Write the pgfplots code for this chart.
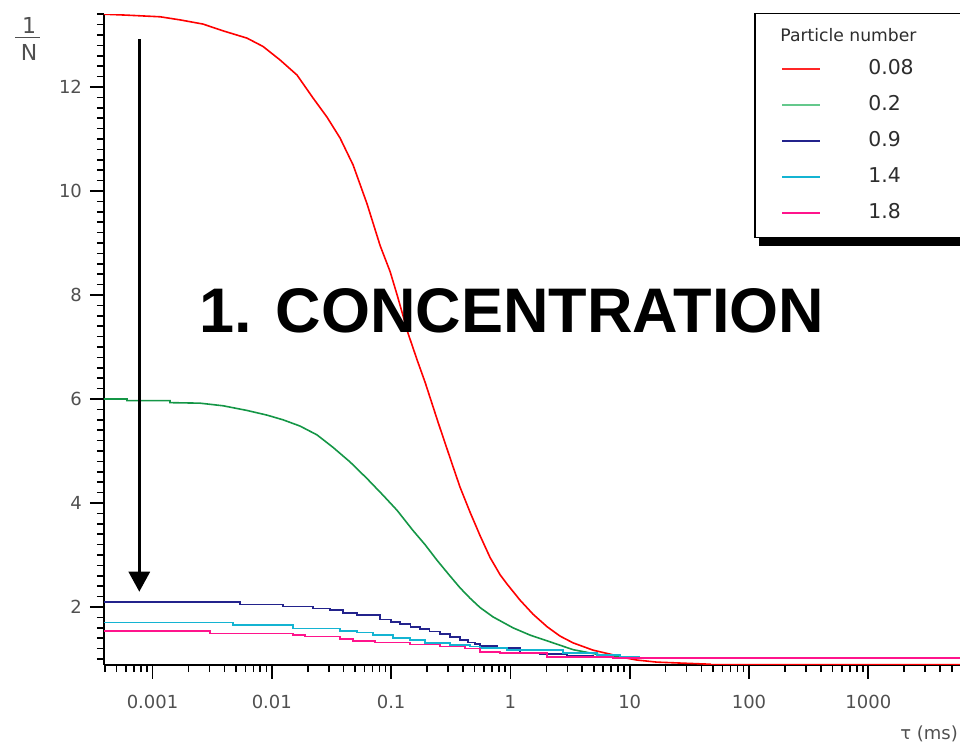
\documentclass[border=0pt]{standalone}
\usepackage{fontspec}
\setmainfont{DejaVu Sans}
\newfontfamily\arialfont{Liberation Sans}
\usepackage{pgfplots}
\pgfplotsset{compat=1.18}
\usetikzlibrary{arrows.meta}
\definecolor{tickgray}{RGB}{80,80,80}
\definecolor{txtgray}{RGB}{45,45,45}
\definecolor{cred}{RGB}{255,0,0}
\definecolor{cgreen}{RGB}{20,150,70}
\definecolor{cnavy}{RGB}{35,35,140}
\definecolor{ccyan}{RGB}{20,180,210}
\definecolor{cpink}{RGB}{255,20,140}
\definecolor{lgreen}{RGB}{100,200,140}

\begin{document}
\begin{tikzpicture}
\useasboundingbox (0,0) rectangle (480pt,372pt);
\clip (0,0) rectangle (480pt,372pt);
% legend frame with its shadow
\fill[black] (379.5pt,249.2pt) rectangle (500pt,362pt);
\draw[black, line width=0.75pt, fill=white] (377.5pt,253.3pt) rectangle (497.5pt,365.3pt);
\begin{axis}[
    at={(52pt,39.5pt)}, anchor=south west,
    scale only axis, width=447.8pt, height=325.4pt,
    xmode=log, xmin=3.92e-4, xmax=12600,
    ymin=0.885, ymax=13.4,
    axis x line*=bottom, axis y line*=left,
    xtick pos=bottom, ytick pos=left,
    axis line style={line width=1.1pt},
    tick align=outside,
    major tick length=7pt, minor tick length=3.6pt,
    major tick style={line width=0.9pt, black},
    minor tick style={line width=0.8pt, black},
    xtick={0.001,0.01,0.1,1,10,100,1000},
    xticklabels={0.001,0.01,0.1,1,10,100,1000},
    minor xtick={0.0004,0.0005,0.0006,0.0007,0.0008,0.0009,
        0.002,0.003,0.004,0.005,0.006,0.007,0.008,0.009,
        0.02,0.03,0.04,0.05,0.06,0.07,0.08,0.09,
        0.2,0.3,0.4,0.5,0.6,0.7,0.8,0.9,
        2,3,4,5,6,7,8,9,20,30,40,50,60,70,80,90,
        200,300,400,500,600,700,800,900,
        2000,3000,4000,5000,6000,7000,8000,9000},
    ytick={2,4,6,8,10,12}, yticklabels={2,4,6,8,10,12},
    minor ytick={1,1.2,...,13.3},
    ticklabel style={font=\fontsize{9}{10}\selectfont, text=tickgray},
    xticklabel style={yshift=-4.5pt},
    yticklabel style={xshift=-0.5pt},
    /pgf/number format/assume math mode=true,
    legend cell align=left,
    legend image code/.code={\draw[#1, line width=0.9pt] (0pt,0pt) -- (19pt,0pt); \path (42.6pt,0pt);},
    legend style={at={(axis description cs:0.7559,0.9445)}, anchor=north west,
        draw=none, fill=none, inner sep=0pt, row sep=0pt,
        nodes={inner sep=0pt, minimum height=18pt, text=txtgray,
            font=\fontsize{10.2}{12}\selectfont}},
    every axis plot/.append style={line width=0.8pt},
]
\addplot[cred, forget plot] coordinates {
(3.92e-4,13.40)(6.3e-4,13.38)(1.16e-3,13.35)(1.706e-3,13.29)(2.65e-3,13.21)
(3.9e-3,13.08)(6.19e-3,12.94)(8.43e-3,12.78)(0.01172,12.52)(0.01626,12.23)
(0.02213,11.79)(0.02902,11.42)(0.0373,11.02)(0.04801,10.50)(0.06289,9.75)
(0.08087,8.95)(0.09808,8.45)(0.1123,8.00)(0.1388,7.26)(0.1652,6.75)
(0.1928,6.32)(0.2477,5.55)(0.3246,4.75)(0.3788,4.30)(0.4595,3.82)
(0.5572,3.37)(0.6758,2.95)(0.8197,2.62)(0.9383,2.44)(1.206,2.13)
(1.550,1.86)(2.031,1.62)(2.609,1.44)(3.355,1.31)(4.934,1.17)
(7.257,1.08)(8.79,1.03)(11.5,0.98)(16.9,0.94)(47.1,0.90)(47.1,0.89)(12600,0.89)
};
\addplot[cgreen, forget plot] coordinates {
(3.92e-4,6.00)(6.11e-4,6.00)(6.11e-4,5.97)(1.4e-3,5.97)(1.4e-3,5.93)
(2.5e-3,5.92)(3.899e-3,5.87)(6.193e-3,5.78)(9.118e-3,5.69)(0.01241,5.60)
(0.01723,5.48)(0.02392,5.31)(0.03258,5.07)(0.04523,4.79)(0.06281,4.47)
(0.08554,4.15)(0.1121,3.86)(0.1527,3.47)(0.1924,3.20)(0.2424,2.90)
(0.3056,2.62)(0.3779,2.37)(0.4585,2.17)(0.5562,1.99)(0.7147,1.81)
(1.051,1.60)(1.460,1.46)(2.027,1.35)(3.348,1.18)(5.637,1.08)
(8.293,1.04)(12.2,1.02)(12600,1.02)
};
\addplot[cnavy, const plot, forget plot] coordinates {
(3.92e-4,2.10)(5.41e-3,2.05)(0.01241,2.01)(0.02217,1.97)(0.03076,1.94)
(0.03953,1.89)(0.05179,1.85)(0.08054,1.76)(0.1,1.71)(0.1186,1.67)
(0.145,1.62)(0.1747,1.58)(0.21,1.53)(0.257,1.48)(0.31,1.42)
(0.3784,1.36)(0.44,1.32)(0.5047,1.29)(0.5559,1.25)(0.7727,1.21)
(1.204,1.12)(1.772,1.10)(2.985,1.06)(4.93,1.04)(7.25,1.02)(12600,1.02)
};
\addplot[ccyan, const plot, forget plot] coordinates {
(3.92e-4,1.70)(4.73e-3,1.65)(0.01506,1.59)(0.0373,1.54)(0.05179,1.51)
(0.07047,1.46)(0.1035,1.40)(0.1439,1.37)(0.1924,1.31)(0.3119,1.27)
(0.4585,1.24)(0.5559,1.21)(0.9375,1.17)(2.762,1.12)(5.33,1.08)
(8.3,1.04)(11.9,1.02)(12600,1.02)
};
\addplot[cpink, const plot, forget plot] coordinates {
(3.92e-4,1.54)(3.03e-3,1.49)(0.01506,1.46)(0.01897,1.43)(0.0373,1.38)
(0.04794,1.35)(0.07325,1.32)(0.1439,1.28)(0.257,1.24)(0.4159,1.20)
(0.5559,1.14)(0.8185,1.12)(2.027,1.04)(7.25,1.02)(12600,1.02)
};
\addlegendimage{cred!85!white}
\addlegendentry{0.08}
\addlegendimage{lgreen}
\addlegendentry{0.2}
\addlegendimage{cnavy}
\addlegendentry{0.9}
\addlegendimage{ccyan}
\addlegendentry{1.4}
\addlegendimage{cpink}
\addlegendentry{1.8}
\draw[line width=1.5pt, -{Triangle[width=10.5pt,length=10pt]}]
    (axis cs:7.75e-4,12.92) -- (axis cs:7.75e-4,2.294);
\end{axis}
% texts around the axis
\node[inner sep=0pt, font=\arialfont\bfseries\fontsize{31.5}{36}\selectfont] at (256pt,216.5pt) {1. CONCENTRATION};
\node[inner sep=0pt, anchor=west, text=txtgray, font=\fontsize{8.6}{10}\selectfont] at (390pt,354.5pt) {Particle number};
\node[inner sep=0pt, text=tickgray, font=\fontsize{11}{12}\selectfont] at (14.5pt,359.5pt) {1};
\draw[tickgray, line width=0.7pt] (7.5pt,353.2pt) -- (20pt,353.2pt);
\node[inner sep=0pt, text=tickgray, font=\fontsize{11}{12}\selectfont] at (14.5pt,345.8pt) {N};
\node[inner sep=0pt, anchor=base west, text=tickgray, font=\fontsize{9}{10}\selectfont] at (450pt,2pt) {τ (ms)};
\end{tikzpicture}
\end{document}
